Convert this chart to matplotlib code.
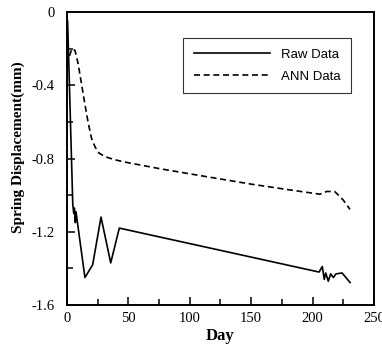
import matplotlib
matplotlib.use("Agg")
import matplotlib.pyplot as plt
from matplotlib.ticker import MultipleLocator

raw_day = [0.5, 4.7, 5.5, 6.0, 6.8, 7.3, 14.6, 20.9, 27.7, 35.6, 42.6, 205.3,
           207.9, 209.5, 210.7, 212.8, 214.7, 216.9, 219.0, 224.0, 230.5]
raw_val = [-0.05, -1.05, -1.10, -1.07, -1.15, -1.09, -1.45, -1.38, -1.12, -1.37, -1.18, -1.42,
           -1.39, -1.46, -1.425, -1.47, -1.43, -1.45, -1.43, -1.425, -1.477]

ann_day = [2.0, 4.0, 6.5, 9.0, 12.0, 15.0, 17.4, 20.0, 22.8, 26.0, 31.0, 38.0, 46.0,
           75.0, 110.0, 150.0, 180.0, 206.0, 211.5, 218.0, 225.0, 230.5]
ann_val = [-0.24, -0.20, -0.21, -0.28, -0.40, -0.52, -0.61, -0.69, -0.736, -0.77, -0.79, -0.805, -0.818,
           -0.855, -0.895, -0.94, -0.97, -0.995, -0.98, -0.98, -1.027, -1.078]

x_ticks = [0, 50, 100, 150, 200, 250]
y_ticks = [0, -0.4, -0.8, -1.2, -1.6]
y_tick_labels = ["0", "-0.4", "-0.8", "-1.2", "-1.6"]

fig = plt.figure(figsize=(3.82, 3.45), dpi=100)
ax = fig.add_axes([0.1754, 0.1159, 0.979 - 0.1754, 0.9652 - 0.1159])

ax.plot(raw_day, raw_val, color="black", lw=1.2, label="Raw Data")
ax.plot(ann_day, ann_val, color="black", lw=1.2, dashes=(3.6, 2.2), label="ANN Data")

ax.set_xlim(0, 250)
ax.set_ylim(-1.6, 0)
ax.set_xticks(x_ticks)
ax.set_yticks(y_ticks)
ax.set_yticklabels(y_tick_labels)
ax.xaxis.set_minor_locator(MultipleLocator(25))
ax.yaxis.set_minor_locator(MultipleLocator(0.2))

serif = "Liberation Serif"
ax.tick_params(which="both", direction="in", top=False, right=False, width=1.1)
ax.tick_params(which="major", length=6, labelsize=10.5)
ax.tick_params(axis="y", which="major", pad=9)
ax.tick_params(axis="x", which="major", pad=5)
ax.tick_params(which="minor", length=4)
for lab in ax.get_xticklabels() + ax.get_yticklabels():
    lab.set_fontfamily(serif)
for s in ax.spines.values():
    s.set_linewidth(1.4)

ax.set_xlabel("Day", fontfamily=serif, fontweight="bold", fontsize=12, labelpad=2)
ax.set_ylabel("Spring Displacement(mm)", fontfamily=serif, fontweight="bold", fontsize=11)
ax.yaxis.set_label_coords(-0.137, 0.5375)

leg = ax.legend(loc="upper right", bbox_to_anchor=(351 / 382, 1 - 38 / 345),
                bbox_transform=fig.transFigure, borderaxespad=0, frameon=True, fancybox=False,
                edgecolor="black", handlelength=5.8, handletextpad=0.8,
                borderpad=0.8, labelspacing=0.75,
                prop={"family": "Liberation Sans", "size": 9.5})
leg.get_frame().set_linewidth(0.8)

fig.savefig("out.png", dpi=100)
